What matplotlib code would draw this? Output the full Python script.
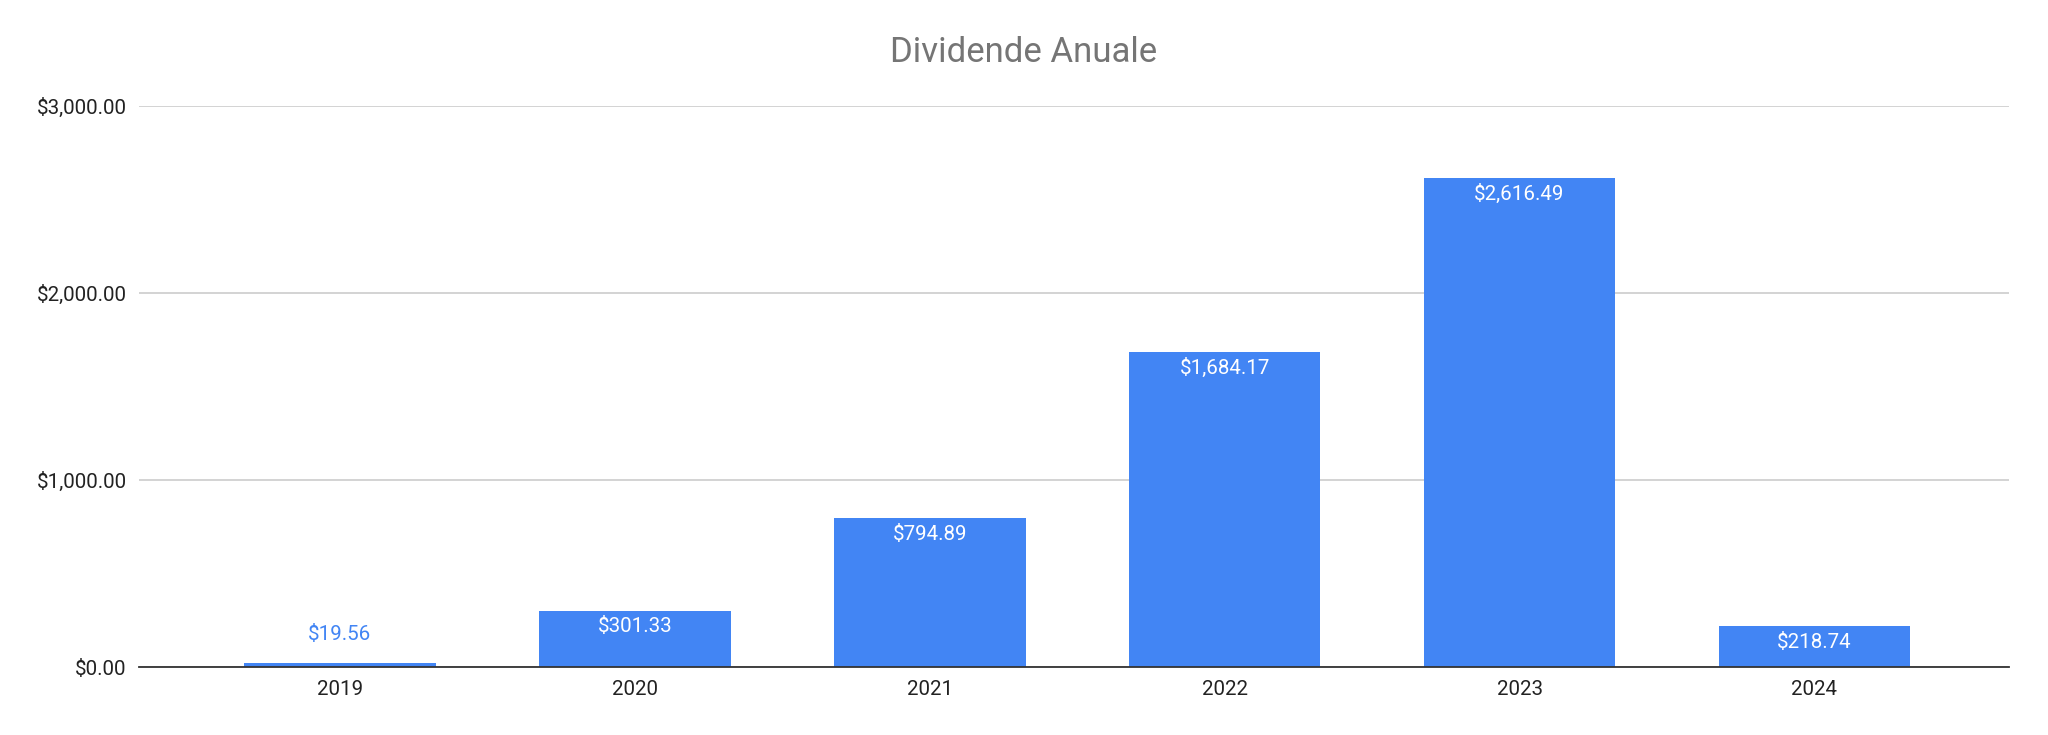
import matplotlib.pyplot as plt
from matplotlib.ticker import FuncFormatter

years = ["2019", "2020", "2021", "2022", "2023", "2024"]
dividends = [19.56, 301.33, 794.89, 1684.17, 2616.49, 218.74]
y_ticks = [0, 1000, 2000, 3000]

bar_color = "#4285F4"

plt.rcParams['font.family'] = ['Roboto', 'DejaVu Sans']

fig = plt.figure(figsize=(20.48, 7.35), dpi=100)
ax = fig.add_axes([0.068, 0.0925, 0.913, 0.7635])

x = list(range(len(years)))
bars = ax.bar(x, dividends, width=0.65, color=bar_color, zorder=3)

# labels: inside the top of the bar, or above it when the bar is too short
for b, v in zip(bars, dividends):
	cx = b.get_x() + b.get_width() / 2
	txt = "${:,.2f}".format(v)
	if v < 100:
		ax.annotate(txt, (cx, v), xytext=(0, 21), textcoords="offset points",
			ha="center", va="center", color=bar_color, fontsize=14.8)
	else:
		ax.annotate(txt, (cx, v), xytext=(0, -11.5), textcoords="offset points",
			ha="center", va="center", color="white", fontsize=14.8)

ax.set_xlim(-0.68, 5.66)
ax.set_ylim(0, 3000)
ax.set_xticks(x)
ax.set_xticklabels(years)
ax.set_yticks(y_ticks)
ax.yaxis.set_major_formatter(FuncFormatter(lambda v, p: "${:,.2f}".format(v)))
ax.tick_params(axis="both", length=0, labelsize=14.8, colors="#222222")
ax.tick_params(axis="x", pad=9)
ax.tick_params(axis="y", pad=9)

ax.grid(axis="y", color="#cccccc", linewidth=1.2, zorder=0)
for s in ["top", "right", "left"]:
	ax.spines[s].set_visible(False)
ax.spines["bottom"].set_color("#333333")
ax.spines["bottom"].set_linewidth(1.3)
ax.spines["bottom"].set_zorder(4)

fig.text(0.5, 0.928, "Dividende Anuale", ha="center", va="center",
	fontsize=25, color="#757575")

fig.savefig("out.png", dpi=100)
